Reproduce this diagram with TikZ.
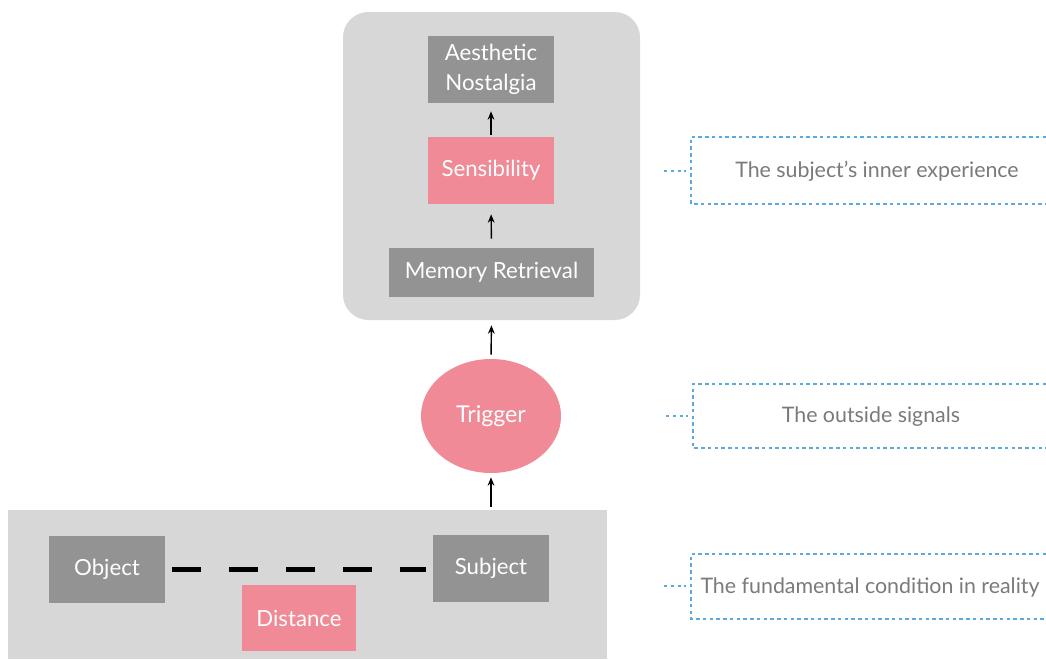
\documentclass[tikz,border=0pt]{standalone}
\usepackage{fontspec}
\setmainfont{Lato}
\usetikzlibrary{shapes.geometric,arrows.meta}
\definecolor{panelgray}{HTML}{D7D7D7}
\definecolor{boxgray}{HTML}{939393}
\definecolor{boxpink}{HTML}{EF8A96}
\definecolor{notegray}{HTML}{7A7A7A}
\definecolor{noteblue}{HTML}{5AAAE0}
\tikzset{
  x=0.025cm, y=-0.025cm,
  panel/.style={fill=panelgray, draw=none, inner sep=0pt},
  graybox/.style={fill=boxgray, text=white, draw=none, inner sep=0pt, align=center,
    font=\fontsize{15.8}{21}\selectfont},
  pinkbox/.style={fill=boxpink, text=white, draw=none, inner sep=0pt, align=center,
    font=\fontsize{15.8}{21}\selectfont},
  uparrow/.style={-{Stealth[length=6pt,width=4.8pt]}, line width=1pt, black},
  notetext/.style={text=notegray, font=\fontsize{15.2}{18}\selectfont, inner sep=0pt},
  noteline/.style={noteblue, line width=1.1pt, dash pattern=on 2.4pt off 2.4pt},
}
\begin{document}
\begin{tikzpicture}
\useasboundingbox (0,0) rectangle (1046,659);

% background panels
\node[panel, rounded corners=18pt, minimum width=297*0.025cm, minimum height=308*0.025cm]
  (inner) at (491.5,166) {};
\node[panel, minimum width=599*0.025cm, minimum height=149*0.025cm]
  (reality) at (307.5,584.5) {};

% inner experience chain
\node[graybox, minimum width=126*0.025cm, minimum height=67*0.025cm]
  (aesthetic) at (491,69.5) {Aesthetic\\Nostalgia};
\node[pinkbox, minimum width=126*0.025cm, minimum height=67*0.025cm]
  (sensibility) at (491,170.5) {Sensibility};
\node[graybox, minimum width=205*0.025cm, minimum height=49*0.025cm]
  (memory) at (491.5,272.5) {Memory Retrieval};

% trigger
\node[ellipse, fill=boxpink, text=white, draw=none, inner sep=0pt,
  minimum width=140*0.025cm, minimum height=114*0.025cm,
  font=\fontsize{16.5}{19}\selectfont]
  (trigger) at (491,416) {Trigger};

% reality row
\node[graybox, minimum width=116*0.025cm, minimum height=67*0.025cm]
  (object) at (107,569.5) {Object};
\node[graybox, minimum width=116*0.025cm, minimum height=67*0.025cm]
  (subject) at (491,568.5) {Subject};
\node[pinkbox, minimum width=114*0.025cm, minimum height=66*0.025cm]
  (distance) at (299,618) {Distance};

\draw[line width=2.9pt, dash pattern=on 20.6pt off 19.9pt]
  ([xshift=7*0.025cm]object.east) -- ([xshift=-7*0.025cm]subject.west |- object.east);

% arrows
\draw[uparrow, shorten <=2*0.025cm, shorten >=8*0.025cm] (sensibility.north) -- (aesthetic.south);
\draw[uparrow, shorten <=9*0.025cm, shorten >=10*0.025cm] (memory.north) -- (sensibility.south);
\draw[uparrow, shorten <=4*0.025cm, shorten >=5*0.025cm] (trigger.north) -- (inner.south);
\draw[uparrow, shorten <=3*0.025cm, shorten >=4*0.025cm] (reality.north -| trigger.south) -- (trigger.south);

% side notes
\coordinate (n1tl) at (691,137); \coordinate (n1bl) at (691,204);
\coordinate (n1tr) at (1046,137); \coordinate (n1br) at (1046,204);
\coordinate (n1s) at (664,171); \coordinate (n1e) at (686,171);
\draw[noteline] (n1tr) -- (n1tl) -- (n1bl) -- (n1br);
\draw[noteline] (n1s) -- (n1e);
\node[notetext] (note1) at (877,171) {The subject’s inner experience};

\coordinate (n2tl) at (693,384); \coordinate (n2bl) at (693,448);
\coordinate (n2tr) at (1046,384); \coordinate (n2br) at (1046,448);
\coordinate (n2s) at (666,416); \coordinate (n2e) at (688,416);
\draw[noteline] (n2tr) -- (n2tl) -- (n2bl) -- (n2br);
\draw[noteline] (n2s) -- (n2e);
\node[notetext] (note2) at (871,417) {The outside signals};

\coordinate (n3tl) at (691,554); \coordinate (n3bl) at (691,619);
\coordinate (n3tr) at (1046,554); \coordinate (n3br) at (1046,619);
\coordinate (n3s) at (664,586); \coordinate (n3e) at (686,586);
\draw[noteline] (n3tr) -- (n3tl) -- (n3bl) -- (n3br);
\draw[noteline] (n3s) -- (n3e);
\node[notetext] (note3) at (870,587) {The fundamental condition in reality};
\end{tikzpicture}
\end{document}
